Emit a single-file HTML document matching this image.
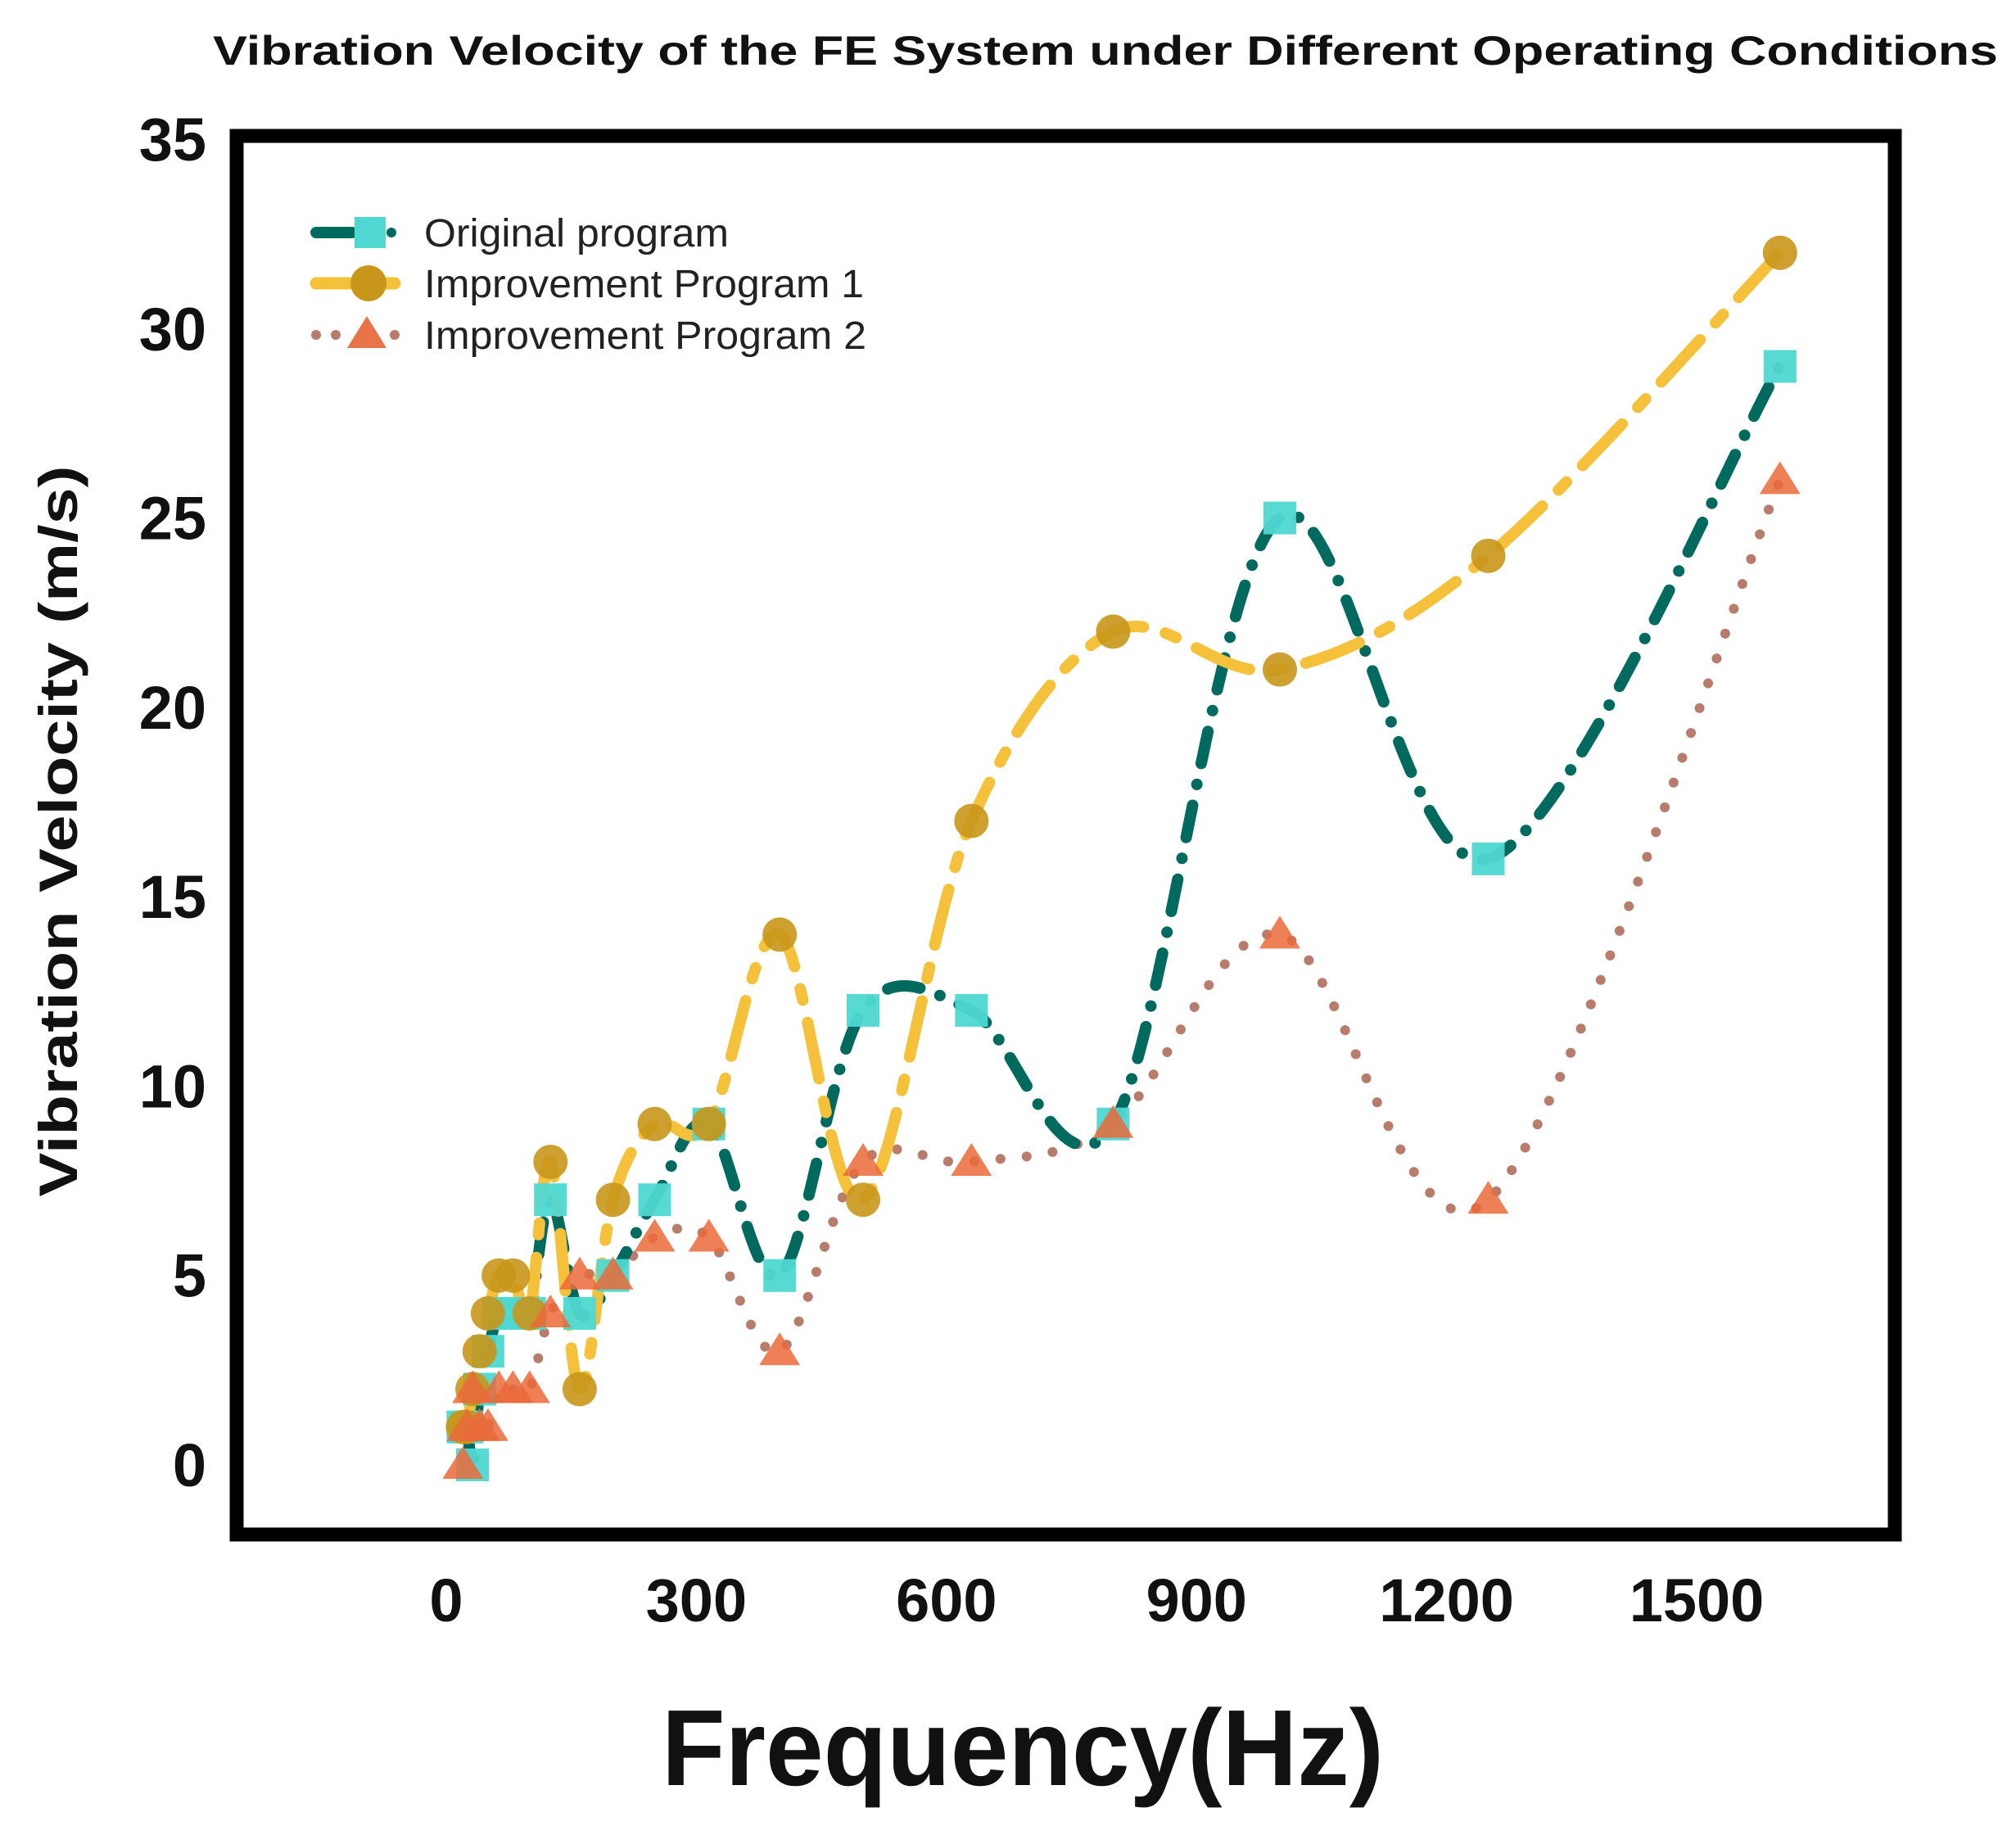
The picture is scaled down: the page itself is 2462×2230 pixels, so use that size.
<!DOCTYPE html>
<html><head><meta charset="utf-8">
<style>
html,body{margin:0;padding:0;background:#fff;}
svg{display:block;}
text{font-family:"Liberation Sans",Arial,sans-serif;}
</style></head>
<body>
<svg id="chart" width="2462" height="2230" viewBox="0 0 2462 2230" xmlns="http://www.w3.org/2000/svg">
<rect x="0" y="0" width="2462" height="2230" fill="#fff"/>
<text x="1350" y="79" text-anchor="middle" font-size="50" font-weight="bold" textLength="2180" lengthAdjust="spacingAndGlyphs" fill="#111">Vibration Velocity of the FE System under Different Operating Conditions</text>
<g id="series"></g>
<rect x="289" y="166" width="2025" height="1708" fill="none" stroke="#000" stroke-width="17"/>
<g id="yticks"></g>
<g id="xticks"></g>
<text transform="translate(94,1015) rotate(-90)" text-anchor="middle" font-size="66" font-weight="bold" textLength="893" lengthAdjust="spacingAndGlyphs" fill="#111">Vibration Velocity (m/s)</text>
<text x="1249" y="2180" text-anchor="middle" font-size="132" font-weight="bold" textLength="882" lengthAdjust="spacingAndGlyphs" fill="#111">Frequency(Hz)</text>
<g>
  <g>
    <line x1="386" y1="284" x2="430" y2="284" stroke="#006a5e" stroke-width="14" stroke-linecap="round"/>
    <circle cx="478" cy="284" r="6" fill="#006a5e"/>
    <rect x="433" y="265" width="38" height="38" fill="#4fd8d2"/>
    <text x="518" y="301" font-size="48" fill="#222" textLength="372" lengthAdjust="spacingAndGlyphs">Original program</text>
  </g>
  <g>
    <line x1="386" y1="346" x2="482" y2="346" stroke="#f5c13a" stroke-width="15" stroke-linecap="round"/>
    <circle cx="450" cy="346" r="22" fill="#c8961a"/>
    <text x="518" y="363" font-size="48" fill="#222" textLength="537" lengthAdjust="spacingAndGlyphs">Improvement Program 1</text>
  </g>
  <g>
    <circle cx="386" cy="409" r="6" fill="#b87c6c"/>
    <circle cx="410" cy="409" r="6" fill="#b87c6c"/>
    <circle cx="482" cy="409" r="6" fill="#b87c6c"/>
    <polygon points="448,386 472,425 424,425" fill="#ea7348"/>
    <text x="518" y="426" font-size="48" fill="#222" textLength="540" lengthAdjust="spacingAndGlyphs">Improvement Program 2</text>
  </g>
</g>
</svg>
<script>
const freqs = [20,25,31.5,40,50,63,80,100,125,160,200,250,315,400,500,630,800,1000,1250,1600];
const originalVals = [1,1,0,2,3,4,4,4,7,4,5,7,9,5,12,12,9,25,16,29];
const program1Vals = [1,1,2,3,4,5,5,4,8,2,7,9,9,14,7,17,22,21,24,32];
const program2Vals = [0,1,2,1,1,2,2,2,4,5,5,6,6,3,8,8,9,14,7,26];
const yTickVals = [0,5,10,15,20,25,30,35];
const xTickVals = [0,300,600,900,1200,1500];

const NS = 'http://www.w3.org/2000/svg';
function xScale(v){ return 545 + (v/1500)*(2072-545); }
function yScale(v){ return 1789 - (v/35)*(1789-170); }
function mk(tag, attrs, parent){
  const el = document.createElementNS(NS, tag);
  for (const k in attrs) el.setAttribute(k, attrs[k]);
  parent.appendChild(el);
  return el;
}
function smoothPath(xs, ys){
  const p = xs.map((x,i)=>[xScale(x), yScale(ys[i])]);
  let d = 'M' + p[0][0] + ',' + p[0][1];
  for (let i=0;i<p.length-1;i++){
    const p0 = p[i-1]||p[i], p1=p[i], p2=p[i+1], p3=p[i+2]||p2;
    const c1x = p1[0]+(p2[0]-p0[0])/6, c1y = p1[1]+(p2[1]-p0[1])/6;
    const c2x = p2[0]-(p3[0]-p1[0])/6, c2y = p2[1]-(p3[1]-p1[1])/6;
    d += ' C'+c1x+','+c1y+' '+c2x+','+c2y+' '+p2[0]+','+p2[1];
  }
  return d;
}
const series = document.getElementById('series');

const l2 = mk('path', {d:smoothPath(freqs, program2Vals), fill:'none', stroke:'#b87c6c', 'stroke-width':12, 'stroke-dasharray':'0.1 32', 'stroke-linecap':'round'}, series);


const l0 = mk('path', {d:smoothPath(freqs, originalVals), fill:'none', stroke:'#006a5e', 'stroke-width':14, 'stroke-dasharray':'40 26 0.1 26', 'stroke-linecap':'round'}, series);


const l1 = mk('path', {d:smoothPath(freqs, program1Vals), fill:'none', stroke:'#f5c13a', 'stroke-width':14, 'stroke-dasharray':'70 28 14 28', 'stroke-linecap':'round'}, series);



freqs.forEach((f,i)=>{
  const sq = mk('rect', {x:xScale(f)-20, y:yScale(originalVals[i])-20, width:40, height:40, fill:'#4fd8d2', opacity:0.95}, series);
  
  
});
freqs.forEach((f,i)=>{
  const c = mk('circle', {cx:xScale(f), cy:yScale(program1Vals[i]), r:21, fill:'#c8961a', opacity:0.9}, series);
  
  
});
freqs.forEach((f,i)=>{
  const x = xScale(f), y = yScale(program2Vals[i]);
  const t = mk('polygon', {points:(x)+','+(y-23)+' '+(x+25)+','+(y+17)+' '+(x-25)+','+(y+17), fill:'#ea6a3a', opacity:0.85}, series);
  
  
});

const yt = document.getElementById('yticks');
yTickVals.forEach(v=>{
  const t = mk('text', {x:252, y:yScale(v)+26, 'text-anchor':'end', 'font-size':74, 'font-weight':'bold', fill:'#111'}, yt);
  t.textContent = v;
  
  
});
const xt = document.getElementById('xticks');
xTickVals.forEach(v=>{
  const t = mk('text', {x:xScale(v), y:1980, 'text-anchor':'middle', 'font-size':74, 'font-weight':'bold', fill:'#111'}, xt);
  t.textContent = v;
  
  
});
</script>
</body></html>
